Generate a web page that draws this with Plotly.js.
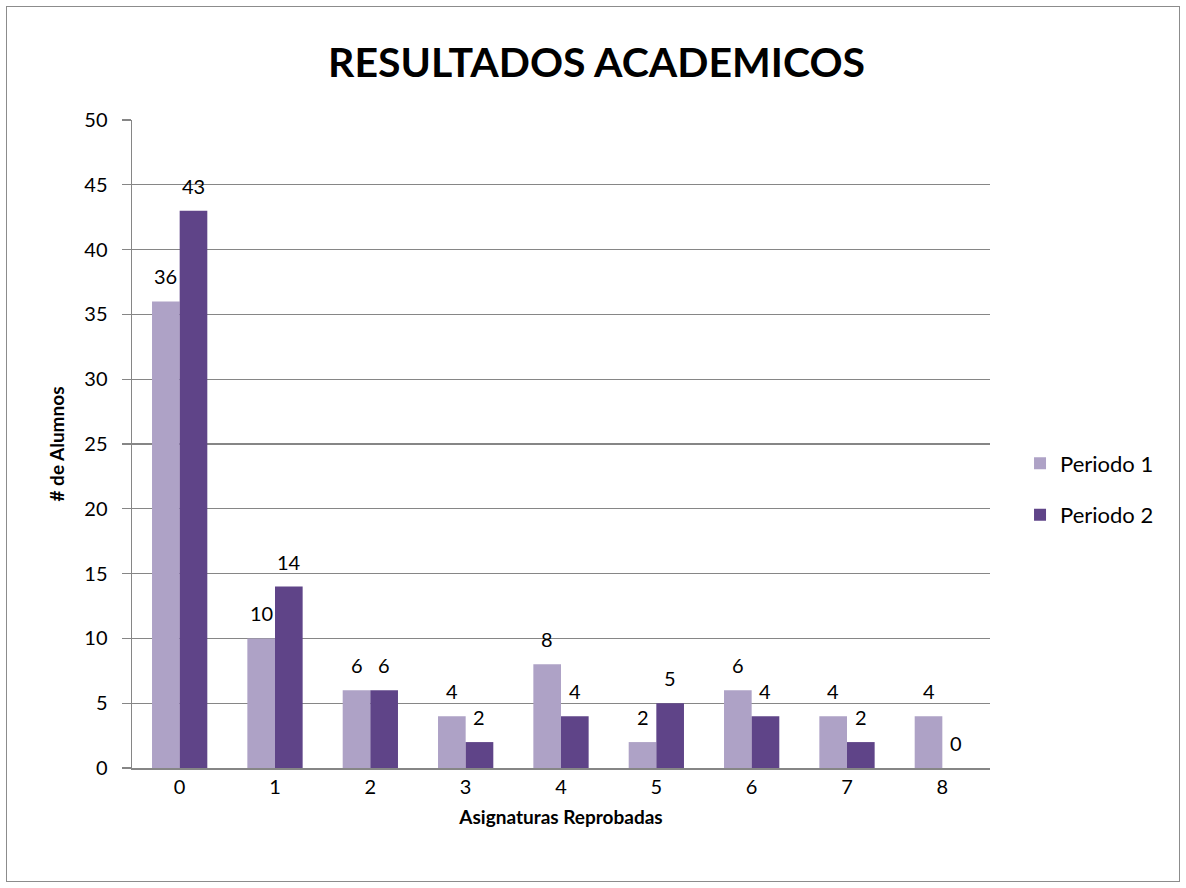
<!DOCTYPE html>
<html>
<head>
<meta charset="utf-8">
<script src="https://cdn.plot.ly/plotly-3.0.1.min.js"></script>
<style>
  html, body { margin: 0; padding: 0; background: #fff; }
  #wrap { position: relative; width: 1186px; height: 888px; }
  #chart { width: 1186px; height: 888px; }
  #frame { position: absolute; left: 6px; top: 6px; width: 1172px; height: 874px;
           border: 1.5px solid #8c8c8c; pointer-events: none; }
</style>
</head>
<body>
<div id="wrap"><div id="chart"></div><div id="frame"></div></div>
<script>
const categories = ['0', '1', '2', '3', '4', '5', '6', '7', '8'];
const periodo1 = [36, 10, 6, 4, 8, 2, 6, 4, 4];
const periodo2 = [43, 14, 6, 2, 4, 5, 4, 2, 0];
const seriesNames = ['Periodo 1', 'Periodo 2'];

const FONT = 'Lato, "Open Sans", "Noto Sans", sans-serif';
const col1 = '#aea2c6';
const col2 = '#5f4488';

const traces = [
  { type: 'bar', name: seriesNames[0], x: categories, y: periodo1,
    marker: { color: col1, line: { width: 0 } },
    legendgroup: 'a', hoverinfo: 'x+y+name' },
  { type: 'bar', name: seriesNames[1], x: categories, y: periodo2,
    marker: { color: col2, line: { width: 0 } },
    legendgroup: 'b', hoverinfo: 'x+y+name' }
];

const plotW = 1186 - 132 - 196;
const bargap = 0.42;
const barW = plotW / categories.length * (1 - bargap) / 2;

const annotations = [];
[periodo1, periodo2].forEach((vals, si) => {
  vals.forEach((v, i) => {
    annotations.push({
      x: categories[i], y: v, xref: 'x', yref: 'y',
      text: String(v), showarrow: false,
      xshift: (si === 0 ? -1 : 1) * barW / 2,
      yshift: 25, yanchor: 'middle', xanchor: 'center',
      font: { family: FONT, size: 20, color: '#000' }
    });
  });
});

const layout = {
  width: 1186, height: 888,
  margin: { l: 132, r: 196, t: 120, b: 120 },
  paper_bgcolor: '#fff', plot_bgcolor: '#fff',
  font: { family: FONT, size: 18, color: '#000' },
  title: { text: '<b>RESULTADOS ACADEMICOS</b>', x: 0.503, xanchor: 'center',
           y: 0.93, yanchor: 'middle',
           font: { family: FONT, size: 41, color: '#000' } },
  barmode: 'group', bargap: bargap, bargroupgap: 0,
  xaxis: {
    type: 'category', showgrid: false, ticks: '', showline: true,
    linecolor: '#868686', linewidth: 1.5,
    tickfont: { family: FONT, size: 20, color: '#000' },
    title: { text: '<b>Asignaturas Reprobadas</b>', standoff: 14,
             font: { family: FONT, size: 19, color: '#000' } }
  },
  yaxis: {
    range: [0, 50], dtick: 5, tick0: 0, showgrid: true,
    gridcolor: '#868686', gridwidth: 1.2,
    showline: true, linecolor: '#868686', linewidth: 1.5,
    ticks: 'outside', ticklen: 9, tickcolor: '#868686', tickwidth: 1.2,
    ticklabelstandoff: 10,
    zeroline: false,
    tickfont: { family: FONT, size: 20, color: '#000' },
    title: { text: '<b># de Alumnos</b>', standoff: 14,
             font: { family: FONT, size: 19, color: '#000' } }
  },
  showlegend: true,
  legend: { x: 1.035, y: 0.43, xanchor: 'left', yanchor: 'middle',
            traceorder: 'grouped', tracegroupgap: 20,
            font: { family: FONT, size: 22, color: '#000' },
            itemwidth: 30 },
  annotations: annotations
};

Plotly.newPlot('chart', traces, layout, { displayModeBar: false, staticPlot: true });
</script>
</body>
</html>
